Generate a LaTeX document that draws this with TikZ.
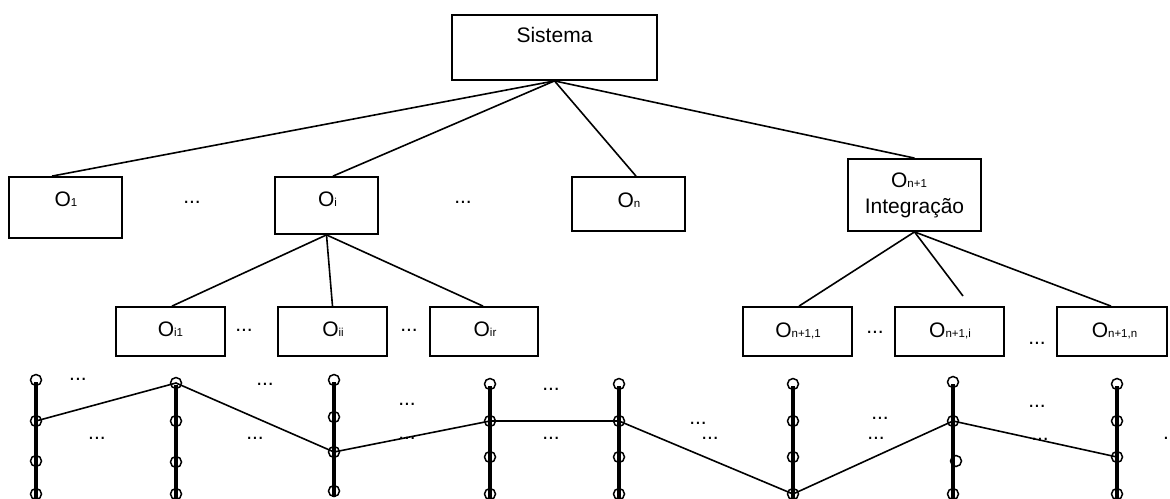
\documentclass[tikz,border=0pt]{standalone}
\usepackage{fontspec}
\setmainfont{Liberation Sans}
\newcommand\lowsub[1]{{\fontsize{11.5}{12}\selectfont #1}}
\begin{document}
\begin{tikzpicture}[x=1pt,y=-1pt,
  box/.style={draw, line width=1.8pt, rectangle, inner sep=0pt},
  txt/.style={inner sep=0pt, anchor=base, font=\fontsize{21}{25}\selectfont},
  dots/.style={inner sep=0pt, anchor=base, font=\fontsize{21}{25}\selectfont},
  link/.style={line width=1.6pt},
  post/.style={line width=3.2pt},
  ring/.style={circle, draw, line width=1.5pt, minimum size=11pt, inner sep=0pt}]
\useasboundingbox (0,0) rectangle (1170,498);

% boxes
\node[box, minimum width=205pt, minimum height=65pt] (sis) at (554.5,47.5) {};
\node[box, minimum width=113pt, minimum height=61pt] (o1) at (65.5,207.5) {};
\node[box, minimum width=103pt, minimum height=57pt] (oi) at (326.5,205.5) {};
\node[box, minimum width=113pt, minimum height=54pt] (on) at (628.5,204) {};
\node[box, minimum width=133pt, minimum height=72pt] (onp) at (914.5,195) {};
\node[box, minimum width=109pt, minimum height=49pt] (oi1) at (170.5,331.5) {};
\node[box, minimum width=109pt, minimum height=49pt] (oii) at (332.5,331.5) {};
\node[box, minimum width=108pt, minimum height=49pt] (oir) at (484,331.5) {};
\node[box, minimum width=109pt, minimum height=49pt] (op1) at (797.5,331.5) {};
\node[box, minimum width=109pt, minimum height=49pt] (opi) at (949.5,331.5) {};
\node[box, minimum width=110pt, minimum height=49pt] (opn) at (1112,331.5) {};

% texts
\node[txt] (tsis) at (554.5,42.7) {Sistema};
\node[txt] (to1) at (66,206.5) {O\lowsub{1}};
\node[txt] (toi) at (327.5,206.5) {O\lowsub{i}};
\node[txt] (ton) at (629,207) {O\lowsub{n}};
\node[txt] (tonp) at (909,187.3) {O\lowsub{n+1}};
\node[txt] (tint) at (914.5,213.3) {Integração};
\node[txt] (toi1) at (170.5,336.7) {O\lowsub{i1}};
\node[txt] (toii) at (333,336.7) {O\lowsub{ii}};
\node[txt] (toir) at (485,336.7) {O\lowsub{ir}};
\node[txt] (top1) at (798,337) {O\lowsub{n+1,1}};
\node[txt] (topi) at (950,337) {O\lowsub{n+1,i}};
\node[txt] (topn) at (1114.5,337) {O\lowsub{n+1,n}};

% connectors
\draw[link] (sis.south) -- ([xshift=-13.5pt]o1.north);
\draw[link] (sis.south) -- ([xshift=6.5pt]oi.north);
\draw[link] (sis.south) -- ([xshift=7.5pt]on.north);
\draw[link] (sis.south) -- (onp.north);
\draw[link] (oi.south) -- ([xshift=1.5pt]oi1.north);
\draw[link] (oi.south) -- (oii.north);
\draw[link] (oi.south) -- ([xshift=-1pt]oir.north);
\coordinate (free) at (963,296);
\draw[link] (onp.south) -- ([xshift=1.5pt]op1.north);
\draw[link] (onp.south) -- (free);
\draw[link] (onp.south) -- ([xshift=-1pt]opn.north);

% dots
\foreach \x/\y [count=\k] in {192/203.5, 463/203.5, 244/331.5, 409/331.5, 875/333.5, 1037/344.5,
  78/380.5, 265/385.5, 407/405.5, 551/390.5, 97/439.5, 255/439.5, 407/439.5, 551/439.5,
  698/424.5, 710/439.5, 880/419.5, 876/439.5, 1037/407.5, 1040/440.5}
  \node[dots] (d\k) at (\x,\y) {...};
\node[dots, anchor=base west] (dcut) at (1163,439.5) {...};

% columns of rings
\foreach \c/\x/\a/\b/\e/\f in {1/36/380/421/461/494, 2/176/383/421/462/494, 3/334/380/417/452/491,
  4/490/384/421/457/494, 5/619/384/421/457/494, 6/793/384/421/457/494,
  7/953/382/421/461/494, 8/1117/384/421/457/494}
{
  \node[ring] (c\c a) at (\x,\a) {};
  \node[ring] (c\c b) at (\x,\b) {};
  \node[ring] (c\c d) at (\x,\f) {};
  \draw[post] ([yshift=-2pt]c\c a.center) -- (c\c d.south);
}
\foreach \c/\x/\e in {1/36/461, 2/176/462, 3/334/452, 4/490/457, 5/619/457, 6/793/457, 7/956/461, 8/1117/457}
  \node[ring] (c\c c) at (\x,\e) {};

% zigzag
\draw[link] (c1b.center) -- (c2a.center) -- (c3c.center) -- (c4b.center) -- (c5b.center)
  -- (c6d.center) -- (c7b.center) -- (c8c.center);
\end{tikzpicture}
\end{document}
